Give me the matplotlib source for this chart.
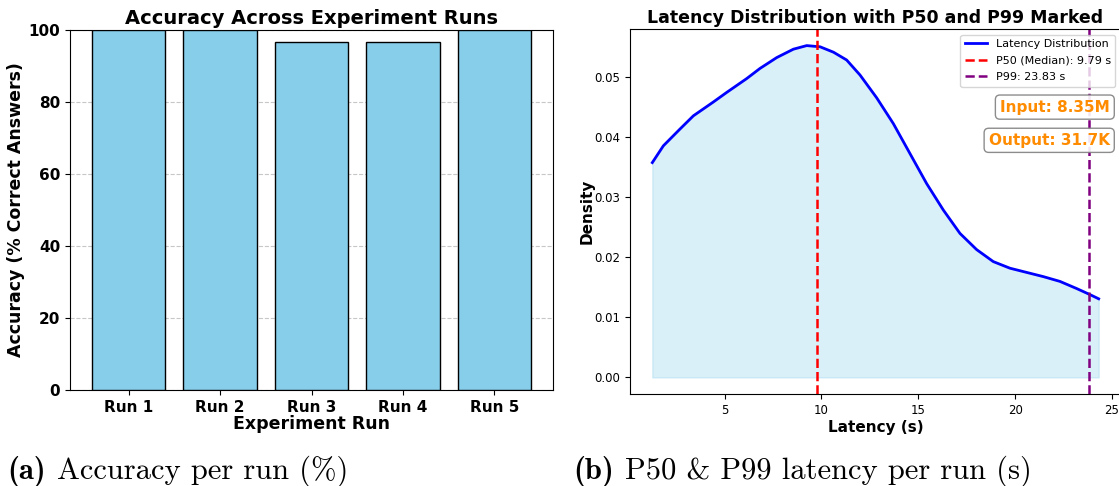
import numpy as np
import matplotlib
matplotlib.use('Agg')
import matplotlib.pyplot as plt

# accuracy per run
runs = ['Run 1', 'Run 2', 'Run 3', 'Run 4', 'Run 5']
accuracy = [100, 100, 96.7, 96.7, 100]

# latency density curve
lat_x = [1.27, 1.84, 2.70, 3.39, 4.42, 5.11, 6.14, 6.83, 7.69, 8.55, 9.24, 9.93,
         10.62, 11.30, 11.99, 12.85, 13.71, 14.57, 15.43, 16.29, 17.15, 18.01,
         18.87, 19.73, 20.59, 21.45, 22.31, 23.18, 23.86, 24.31]
lat_d = [0.0358, 0.0386, 0.0414, 0.0436, 0.0459, 0.0475, 0.0498, 0.0515, 0.0533,
         0.0547, 0.0553, 0.0551, 0.0542, 0.0529, 0.0504, 0.0466, 0.0423, 0.0373,
         0.0323, 0.0279, 0.0240, 0.0213, 0.0193, 0.0182, 0.0175, 0.0168, 0.0160,
         0.0148, 0.0138, 0.0131]
p50 = 9.79
p99 = 23.83
input_tokens = '8.35M'
output_tokens = '31.7K'

captions = [('(a)', 'Accuracy per run (%)'),
            ('(b)', 'P50 & P99 latency per run (s)')]

fig = plt.figure(figsize=(11.19, 4.86), dpi=100)
W, H = 1119, 486

# left: accuracy bars
ax1 = fig.add_axes([70 / W, (H - 390) / H, 483 / W, 360 / H])
ax1.bar(runs, accuracy, color='skyblue', edgecolor='black', width=0.8, zorder=3)
ax1.set_ylim(0, 100)
ax1.set_title('Accuracy Across Experiment Runs', fontsize=14, fontweight='bold', pad=4)
ax1.set_xlabel('Experiment Run', fontsize=12.5, fontweight='bold', labelpad=0)
ax1.set_ylabel('Accuracy (% Correct Answers)', fontsize=12.5, fontweight='bold')
ax1.yaxis.set_label_coords(-0.093, 0.5)
ax1.grid(axis='y', linestyle='--', alpha=0.7, zorder=0)
for lab in ax1.get_xticklabels() + ax1.get_yticklabels():
    lab.set_fontweight('bold')
    lab.set_fontsize(11)

# right: latency distribution
ax2 = fig.add_axes([630 / W, (H - 394) / H, 491 / W, 365 / H])
ax2.plot(lat_x, lat_d, color='blue', linewidth=2, label='Latency Distribution')
ax2.fill_between(lat_x, lat_d, color='skyblue', alpha=0.3)
ax2.axvline(p50, color='red', linestyle='--', linewidth=1.8, label=f'P50 (Median): {p50:.2f} s')
ax2.axvline(p99, color='purple', linestyle='--', linewidth=1.8, label=f'P99: {p99:.2f} s')
ax2.set_title('Latency Distribution with P50 and P99 Marked', fontsize=12.5,
              fontweight='bold', pad=4)
ax2.set_xlabel('Latency (s)', fontsize=11, fontweight='bold', labelpad=2)
ax2.set_ylabel('Density', fontsize=11, fontweight='bold')
ax2.yaxis.set_label_coords(-0.073, 0.5)
ax2.tick_params(labelsize=8.5)
ax2.set_xticks([5, 10, 15, 20, 25])
ax2.legend(loc='upper right', fontsize=8, labelspacing=0.6)

box = dict(boxstyle='round,pad=0.3', facecolor='white', edgecolor='gray', alpha=0.9)
ax2.text(0.977, 0.786, f'Input: {input_tokens}', transform=ax2.transAxes, ha='right',
         va='center', fontsize=11, fontweight='bold', color='darkorange', bbox=box)
ax2.text(0.977, 0.695, f'Output: {output_tokens}', transform=ax2.transAxes, ha='right',
         va='center', fontsize=11, fontweight='bold', color='darkorange', bbox=box)

# subfigure captions: bold tag then roman text
renderer = fig.canvas.get_renderer()
for (tag, cap), x0 in zip(captions, [7, 573]):
    t = fig.text(x0 / W, (H - 479) / H, tag, fontsize=22, fontfamily='cmb10',
                 va='baseline')
    bb = t.get_window_extent(renderer)
    fig.text((bb.x1 + 11) / fig.bbox.width, (H - 479) / H, cap, fontsize=22,
             fontfamily='cmr10', va='baseline')

fig.savefig('out.png', dpi=100)
